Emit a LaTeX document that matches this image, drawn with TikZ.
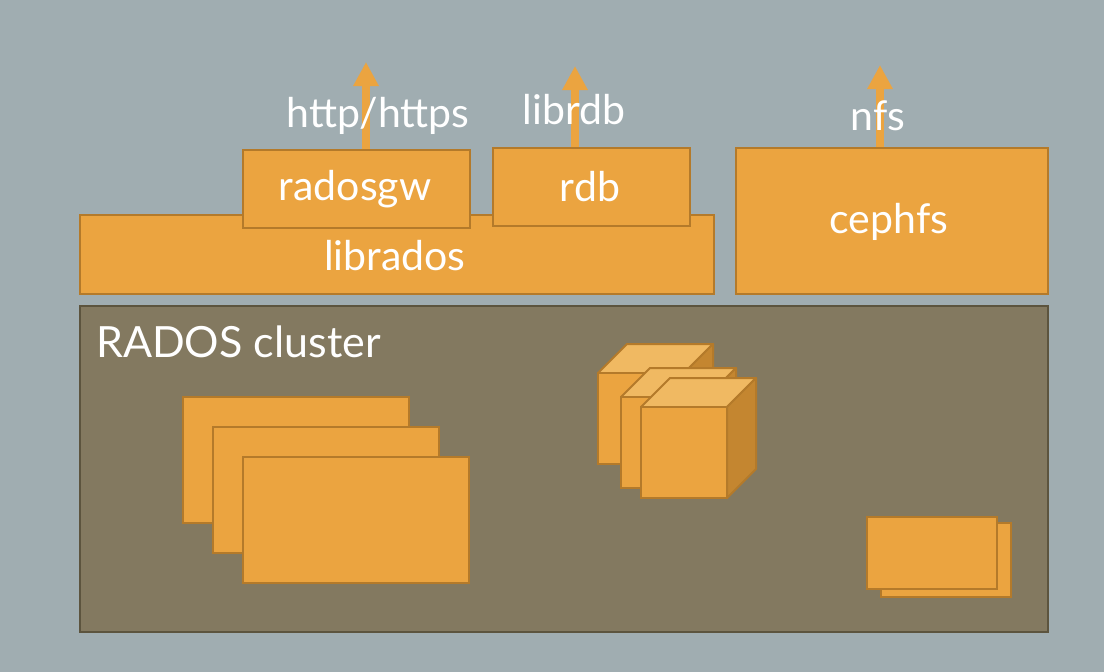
\documentclass[tikz,border=0pt]{standalone}
\usepackage{fontspec}
\setmainfont{Lato}
\usetikzlibrary{arrows.meta}
\definecolor{bg}{RGB}{160,173,177}
\definecolor{org}{RGB}{235,164,64}
\definecolor{orgline}{RGB}{180,122,42}
\definecolor{orgtop}{RGB}{240,185,98}
\definecolor{orgside}{RGB}{196,134,48}
\definecolor{cluster}{RGB}{131,121,96}
\definecolor{clusterline}{RGB}{92,84,62}
\tikzset{
  box/.style={draw=orgline, fill=org, line width=2pt, anchor=north west, inner sep=0pt},
  sheet/.style={draw=orgline, fill=org, line width=2pt},
  uparrow/.style={draw=org, line width=8pt, -{Triangle[width=24pt,length=24pt]}},
  lbl/.style={text=white, font=\fontsize{41}{45}\selectfont, inner sep=0pt},
}
\begin{document}
\begin{tikzpicture}[x=1pt,y=-1pt]
\fill[bg] (0,0) rectangle (1104,672);
\useasboundingbox (0,0) rectangle (1104,672);
% cluster
\node[draw=clusterline, fill=cluster, line width=1.5pt, anchor=north west, minimum width=968pt, minimum height=326pt, inner sep=0pt] (cluster) at (79,305) {};
\node[lbl, anchor=west, font=\fontsize{43}{47}\selectfont] (clusterlbl) at (96,342) {RADOS cluster};
% layer boxes
\node[box, minimum width=634pt, minimum height=79pt] (librados) at (79,214) {};
\node[lbl] (libradoslbl) at (395,256) {librados};
\node[box, minimum width=227pt, minimum height=78pt] (radosgw) at (242,149) {};
\node[lbl] (radosgwlbl) at (355,189) {radosgw};
\node[box, minimum width=197pt, minimum height=78pt] (rdb) at (492,147) {};
\node[lbl] (rdblbl) at (590,187) {rdb};
\node[box, minimum width=312pt, minimum height=146pt] (cephfs) at (735,147) {};
\node[lbl] (cephfslbl) at (889,222) {cephfs};
% arrows
\coordinate (a1s) at (366,149); \coordinate (a1e) at (366,62);
\coordinate (a2s) at (575,147); \coordinate (a2e) at (575,66);
\coordinate (a3s) at (880,147); \coordinate (a3e) at (880,65);
\draw[uparrow] (a1s) -- (a1e);
\draw[uparrow] (a2s) -- (a2e);
\draw[uparrow] (a3s) -- (a3e);
\node[lbl] (http) at (378,116) {http/https};
\node[lbl] (librdb) at (574,110) {librdb};
\node[lbl] (nfs) at (878,116) {nfs};
% stacked sheets
\draw[sheet] (183,397) rectangle (409,523);
\draw[sheet] (213,427) rectangle (439,553);
\draw[sheet] (243,457) rectangle (469,583);
% small sheets
\draw[sheet] (881,523) rectangle (1011,597);
\draw[sheet] (867,517) rectangle (997,589);
% cubes
\foreach \x/\y in {598/373, 621/397, 641/407}{
  \draw[sheet, fill=orgtop, line join=round] (\x,\y) -- ++(29,-29) -- ++(86,0) -- ++(-29,29) -- cycle;
  \draw[sheet, fill=orgside, line join=round] (\x+86,\y) -- ++(29,-29) -- ++(0,91) -- ++(-29,29) -- cycle;
  \draw[sheet] (\x,\y) rectangle ++(86,91);
}
\end{tikzpicture}
\end{document}
